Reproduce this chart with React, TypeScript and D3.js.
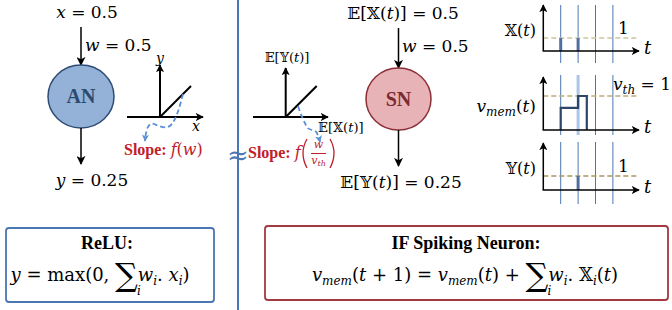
import React from "react";
import * as d3 from "d3";

const W = 672;
const H = 310;

// values shown in the diagram
const inValue = 0.5;
const weight = 0.5;
const outValue = 0.25;
const threshold = 1;

// spike-train panels (time steps on the grid)
const timeSteps = [1, 2, 3, 4];
const inputSpikes = [1, 2];
const outputSpikes = [2];
const vmemTrace: [number, number][] = [
  [1, 0],
  [1, 0.65],
  [2, 0.65],
  [2, 1],
  [2.5, 1],
  [2.5, 0],
];
const reluLine: [number, number][] = [
  [0, 0],
  [1, 1],
];

const mathFont = "'DejaVu Serif', 'DejaVu Sans', serif";
const textFont = "'Liberation Serif', 'DejaVu Serif', serif";
const BB_X = "\u{1D54F}";
const BB_Y = "\u{1D550}";
const BB_E = "\u{1D53C}";
const RED = "#c0202a";
const BLUE_LINE = "#4a76b4";
const DASH_BLUE = "#5b8fd6";

const xT = d3.scaleLinear().domain([0, 5]).range([543.3, 630.3]);

const panels = [
  { key: "x", base: 51, one: 38, top: 5, segTop: 5, segBot: 63, dash: "#cbc59c" },
  { key: "v", base: 130, one: 96, top: 77, segTop: 75, segBot: 135, dash: "#b9ad7e" },
  { key: "y", base: 190, one: 176, top: 143, segTop: 142, segBot: 204, dash: "#a8965a" },
];

function SpikePanels() {
  const line = d3.line<[number, number]>();
  return (
    <g>
      {panels.map((p, pi) => {
        const yv = d3.scaleLinear().domain([0, 1]).range([p.base, p.one]);
        return (
          <g key={p.key}>
            {timeSteps.map((t) => (
              <line
                key={t}
                x1={xT(t)}
                x2={xT(t)}
                y1={p.segTop}
                y2={p.segBot}
                stroke={pi === 1 && t === 2 ? "#a9c6e8" : BLUE_LINE}
                strokeWidth={pi === 1 && t === 2 ? 3 : 1}
              />
            ))}
            <line x1={xT(0)} x2={xT(5.35)} y1={yv(threshold)} y2={yv(threshold)} stroke={p.dash} strokeWidth={1.3} strokeDasharray="5,3" />
            {pi === 0 &&
              inputSpikes.map((t) => (
                <line key={t} x1={xT(t)} x2={xT(t)} y1={yv(0)} y2={yv(1)} stroke="#4f6f9f" strokeWidth={3} />
              ))}
            {pi === 2 &&
              outputSpikes.map((t) => (
                <line key={t} x1={xT(t)} x2={xT(t)} y1={yv(0)} y2={yv(1)} stroke="#4f6f9f" strokeWidth={3} />
              ))}
            {pi === 1 && (
              <path
                d={line(vmemTrace.map(([t, v]) => [xT(t), yv(v)]) as [number, number][]) ?? ""}
                fill="none"
                stroke="#2c4568"
                strokeWidth={2.2}
              />
            )}
            <line x1={xT(0)} x2={xT(0)} y1={p.base} y2={p.top} stroke="#000" strokeWidth={1.5} markerEnd="url(#ah)" />
            <line x1={xT(0) - 0.7} x2={xT(5.5)} y1={p.base} y2={p.base} stroke="#000" strokeWidth={1.5} markerEnd="url(#ah)" />
            <text x={644} y={p.base + 3} fontFamily={mathFont} fontStyle="italic" fontSize={18}>t</text>
          </g>
        );
      })}
      <text x={536} y={36} textAnchor="end" fontFamily={mathFont} fontSize={16}>
        {BB_X}(<tspan fontStyle="italic">t</tspan>)
      </text>
      <text x={618} y={34} fontFamily={mathFont} fontSize={17}>{threshold}</text>
      <text x={536} y={112} textAnchor="end" fontFamily={mathFont} fontSize={17}>
        <tspan fontStyle="italic">v</tspan>
        <tspan fontStyle="italic" fontSize={12} dy={4}>mem</tspan>
        <tspan dy={-4}>(</tspan>
        <tspan fontStyle="italic">t</tspan>)
      </text>
      <text x={613} y={90} fontFamily={mathFont} fontSize={17}>
        <tspan fontStyle="italic">v</tspan>
        <tspan fontStyle="italic" fontSize={12} dy={4}>th</tspan>
        <tspan dy={-4}>{" = " + threshold}</tspan>
      </text>
      <text x={536} y={174} textAnchor="end" fontFamily={mathFont} fontSize={16}>
        {BB_Y}(<tspan fontStyle="italic">t</tspan>)
      </text>
      <text x={618} y={172} fontFamily={mathFont} fontSize={17}>{threshold}</text>
    </g>
  );
}

function ReluPlot({ ox, oy, size, left, right, top }: { ox: number; oy: number; size: number; left: number; right: number; top: number }) {
  const sx = d3.scaleLinear().domain([0, 1]).range([ox, ox + size]);
  const sy = d3.scaleLinear().domain([0, 1]).range([oy, oy - size]);
  const line = d3.line<[number, number]>().x((d) => sx(d[0])).y((d) => sy(d[1]));
  return (
    <g>
      <line x1={left} x2={right} y1={oy} y2={oy} stroke="#000" strokeWidth={2} markerEnd="url(#ah)" />
      <line x1={ox} x2={ox} y1={oy} y2={top} stroke="#000" strokeWidth={2} markerEnd="url(#ah)" />
      <path d={line(reluLine) ?? ""} stroke="#000" strokeWidth={2} fill="none" />
    </g>
  );
}

export default function App() {
  return (
    <svg width={W} height={H} style={{ position: "absolute", left: 0, top: 0, background: "#fff" }}>
      <defs>
        <marker id="ah" viewBox="0 0 10 10" refX={9} refY={5} markerWidth={8} markerHeight={8} markerUnits="userSpaceOnUse" orient="auto">
          <path d="M0,0 L10,5 L0,10 L2.5,5 z" fill="#000" />
        </marker>
        <marker id="ahb" viewBox="0 0 10 10" refX={9} refY={5} markerWidth={9} markerHeight={9} markerUnits="userSpaceOnUse" orient="auto">
          <path d="M0,0 L10,5 L0,10 L2.5,5 z" fill="#000" />
        </marker>
        <marker id="ahd" viewBox="0 0 10 10" refX={9} refY={5} markerWidth={7} markerHeight={7} markerUnits="userSpaceOnUse" orient="auto">
          <path d="M0,0 L10,5 L0,10 L2.5,5 z" fill={DASH_BLUE} />
        </marker>
      </defs>

      {/* ---------- artificial neuron ---------- */}
      <text x={87} y={18} textAnchor="middle" fontFamily={mathFont} fontSize={17}>
        <tspan fontStyle="italic">x</tspan>{" = " + inValue}
      </text>
      <line x1={81} x2={81} y1={27} y2={65} stroke="#000" strokeWidth={1.5} markerEnd="url(#ahb)" />
      <text x={85} y={51} fontFamily={mathFont} fontSize={17}>
        <tspan fontStyle="italic">w</tspan>{" = " + weight}
      </text>
      <ellipse cx={81} cy={96.5} rx={33} ry={31.5} fill="#94b1d7" stroke="#2f4d74" strokeWidth={1.5} />
      <text x={81} y={103} textAnchor="middle" fontFamily={textFont} fontWeight="bold" fontSize={20} fill="#2c4a70">AN</text>
      <line x1={81} x2={81} y1={128} y2={164} stroke="#000" strokeWidth={1.5} markerEnd="url(#ahb)" />
      <text x={92} y={186} textAnchor="middle" fontFamily={mathFont} fontSize={17}>
        <tspan fontStyle="italic">y</tspan>{" = " + outValue}
      </text>

      <ReluPlot ox={160} oy={117} size={31} left={127} right={203} top={65} />
      <text x={160} y={63} textAnchor="middle" fontFamily={mathFont} fontStyle="italic" fontSize={14}>y</text>
      <text x={196} y={131} textAnchor="middle" fontFamily={mathFont} fontStyle="italic" fontSize={14}>x</text>
      <path
        d="M183,94 C180,106 176,120 171,125 C166,130 159,126 154,124 C149,122 146,128 145,141"
        fill="none"
        stroke={DASH_BLUE}
        strokeWidth={1.8}
        strokeDasharray="5,3"
        markerEnd="url(#ahd)"
      />
      <text x={124} y={155} fill={RED} fontSize={16}>
        <tspan fontFamily={textFont} fontWeight="bold">Slope: </tspan>
        <tspan fontFamily={mathFont} fontStyle="italic">f</tspan>
        <tspan fontFamily={mathFont}>(</tspan>
        <tspan fontFamily={mathFont} fontStyle="italic">w</tspan>
        <tspan fontFamily={mathFont}>)</tspan>
      </text>

      {/* ---------- divider ---------- */}
      <line x1={238} x2={238} y1={0} y2={H} stroke={BLUE_LINE} strokeWidth={2} />
      <text x={238} y={164} textAnchor="middle" fontFamily={mathFont} fontSize={26} fill={BLUE_LINE}>≈</text>

      {/* ---------- spiking neuron ---------- */}
      <ReluPlot ox={285.7} oy={117} size={31} left={253} right={328} top={68} />
      <text x={287} y={62} textAnchor="middle" fontFamily={mathFont} fontSize={13}>
        {BB_E}[{BB_Y}(<tspan fontStyle="italic">t</tspan>)]
      </text>
      <text x={318} y={132} fontFamily={mathFont} fontSize={13}>
        {BB_E}[{BB_X}(<tspan fontStyle="italic">t</tspan>)]
      </text>
      <path
        d="M298,106 C301,115 304,122 307,127 C309,131 315,129 317,133 C318,136 319,138 320,142"
        fill="none"
        stroke={DASH_BLUE}
        strokeWidth={1.8}
        strokeDasharray="5,3"
        markerEnd="url(#ahd)"
      />
      <text x={248} y={158} fill={RED} fontSize={16}>
        <tspan fontFamily={textFont} fontWeight="bold">Slope: </tspan>
        <tspan fontFamily={mathFont} fontStyle="italic">f</tspan>
      </text>
      <path d="M307,139 Q299,153 307,168" fill="none" stroke={RED} strokeWidth={1.3} />
      <path d="M330,139 Q338,153 330,168" fill="none" stroke={RED} strokeWidth={1.3} />
      <text x={318.5} y={148} textAnchor="middle" fontFamily={mathFont} fontStyle="italic" fontSize={11} fill={RED}>w</text>
      <line x1={311} x2={326} y1={153.5} y2={153.5} stroke={RED} strokeWidth={1} />
      <text x={318.5} y={164} textAnchor="middle" fontFamily={mathFont} fontStyle="italic" fontSize={11} fill={RED}>
        v<tspan fontSize={8} dy={2}>th</tspan>
      </text>

      <text x={403} y={19} textAnchor="middle" fontFamily={mathFont} fontSize={17}>
        {BB_E}[{BB_X}(<tspan fontStyle="italic">t</tspan>)]{" = " + inValue}
      </text>
      <line x1={398.5} x2={398.5} y1={28} y2={68} stroke="#000" strokeWidth={1.5} markerEnd="url(#ahb)" />
      <text x={402} y={52} fontFamily={mathFont} fontSize={17}>
        <tspan fontStyle="italic">w</tspan>{" = " + weight}
      </text>
      <ellipse cx={398.5} cy={99} rx={32.5} ry={31} fill="#e8b3b7" stroke="#8c2f36" strokeWidth={1.5} />
      <text x={398.5} y={106} textAnchor="middle" fontFamily={textFont} fontWeight="bold" fontSize={20} fill="#7a2a30">SN</text>
      <line x1={398.5} x2={398.5} y1={130} y2={166} stroke="#000" strokeWidth={1.5} markerEnd="url(#ahb)" />
      <text x={401} y={188} textAnchor="middle" fontFamily={mathFont} fontSize={17}>
        {BB_E}[{BB_Y}(<tspan fontStyle="italic">t</tspan>)]{" = " + outValue}
      </text>

      <SpikePanels />

      {/* ---------- equation boxes ---------- */}
      <rect x={6} y={228} width={208} height={74} rx={3} fill="#fff" stroke={BLUE_LINE} strokeWidth={1.8} />
      <text x={107} y={249} textAnchor="middle" fontFamily={textFont} fontWeight="bold" fontSize={18}>ReLU:</text>
      <text x={100} y={281} textAnchor="middle" fontFamily={mathFont} fontSize={18}>
        <tspan fontStyle="italic">y</tspan>
        <tspan>{" = max(0, "}</tspan>
        <tspan fontSize={32} dy={5}>∑</tspan>
        <tspan fontStyle="italic" fontSize={12} dx={-1} dy={9}>i</tspan>
        <tspan fontStyle="italic" dx={-3} dy={-14}>w</tspan>
        <tspan fontStyle="italic" fontSize={12} dy={4}>i</tspan>
        <tspan dy={-4}>. </tspan>
        <tspan fontStyle="italic">x</tspan>
        <tspan fontStyle="italic" fontSize={12} dy={4}>i</tspan>
        <tspan dy={-4}>)</tspan>
      </text>

      <rect x={265} y={226} width={403} height={74} rx={3} fill="#fff" stroke="#a23a40" strokeWidth={1.8} />
      <text x={466} y={249} textAnchor="middle" fontFamily={textFont} fontWeight="bold" fontSize={18}>IF Spiking Neuron:</text>
      <text x={465} y={281} textAnchor="middle" fontFamily={mathFont} fontSize={18}>
        <tspan fontStyle="italic">v</tspan>
        <tspan fontStyle="italic" fontSize={12} dy={4}>mem</tspan>
        <tspan dy={-4}>(</tspan>
        <tspan fontStyle="italic">t</tspan>
        <tspan>{" + 1) = "}</tspan>
        <tspan fontStyle="italic">v</tspan>
        <tspan fontStyle="italic" fontSize={12} dy={4}>mem</tspan>
        <tspan dy={-4}>(</tspan>
        <tspan fontStyle="italic">t</tspan>
        <tspan>{") + "}</tspan>
        <tspan fontSize={32} dy={5}>∑</tspan>
        <tspan fontStyle="italic" fontSize={12} dx={-1} dy={9}>i</tspan>
        <tspan fontStyle="italic" dx={-3} dy={-14}>w</tspan>
        <tspan fontStyle="italic" fontSize={12} dy={4}>i</tspan>
        <tspan dy={-4}>{". " + BB_X}</tspan>
        <tspan fontStyle="italic" fontSize={12} dy={4}>i</tspan>
        <tspan dy={-4}>(</tspan>
        <tspan fontStyle="italic">t</tspan>
        <tspan>)</tspan>
      </text>
    </svg>
  );
}
